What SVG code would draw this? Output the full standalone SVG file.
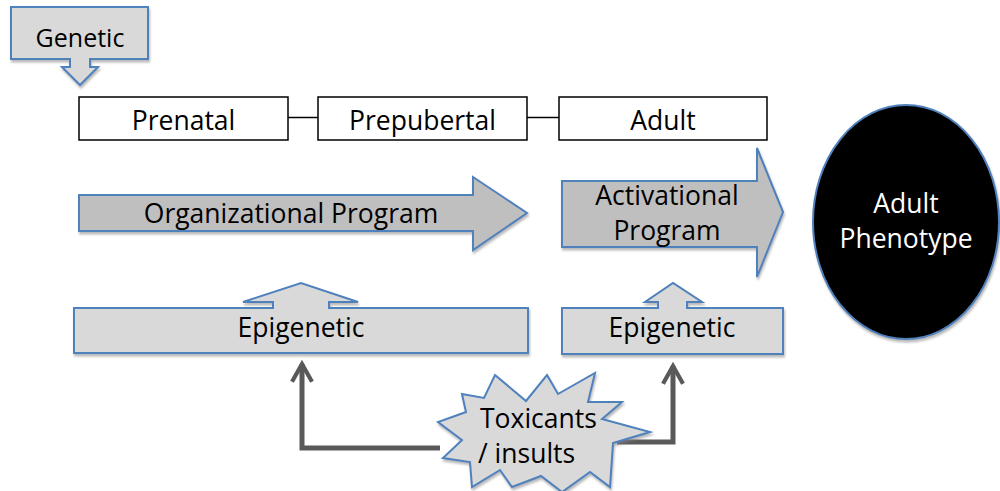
<svg xmlns="http://www.w3.org/2000/svg" width="1000" height="491" viewBox="0 0 1000 491">
<defs>
<filter id="sh" x="-10%" y="-10%" width="120%" height="130%">
<feDropShadow dx="1" dy="2.5" stdDeviation="1" flood-color="#808080" flood-opacity="0.55"/>
</filter>
<marker id="chev" viewBox="0 0 12 12" refX="10" refY="6" markerWidth="5" markerHeight="5" markerUnits="strokeWidth" orient="auto" overflow="visible">
<path d="M1.5 1.2 L10 6 L1.5 10.8" fill="none" stroke="#595959" stroke-width="2" stroke-linecap="butt" stroke-linejoin="miter"/>
</marker>
</defs>
<style>
text{font-family:"Open Sans","Liberation Sans",sans-serif;font-size:26.5px;fill:#000;text-anchor:middle}
.blue{stroke:#4f81bd;stroke-width:2;stroke-linejoin:miter}
.lt{fill:#d9d9d9}
.md{fill:#bfbfbf}
.box{fill:#fff;stroke:#000;stroke-width:1.5}
.conn{fill:none;stroke:#595959;stroke-width:5}
</style>
<g id="genetic">
<path class="blue lt" filter="url(#sh)" d="M11 7 H148 V59 H90 V67 H98 L80 85 L62 67 H70 V59 H11 Z"/>
<text x="80" y="47" style="font-size:25px">Genetic</text>
</g>
<g id="timeline-links">
<line x1="288" y1="117.5" x2="318" y2="117.5" stroke="#000" stroke-width="1.5"/>
<line x1="527" y1="117.5" x2="559" y2="117.5" stroke="#000" stroke-width="1.5"/>
</g>
<g id="prenatal">
<rect class="box" x="79" y="97" width="209" height="43"/>
<text x="183.5" y="130">Prenatal</text>
</g>
<g id="prepubertal">
<rect class="box" x="318" y="97" width="209" height="43"/>
<text x="422.5" y="130">Prepubertal</text>
</g>
<g id="adult">
<rect class="box" x="559" y="97" width="208" height="43"/>
<text x="663" y="130">Adult</text>
</g>
<g id="organizational">
<path class="blue md" filter="url(#sh)" d="M79 195 H473 V177 L527 213 L473 250 V231 H79 Z"/>
<text x="291" y="223">Organizational Program</text>
</g>
<g id="activational">
<path class="blue md" filter="url(#sh)" d="M562 181 H757 V148 L783 212 L757 277 V247 H562 Z"/>
<text x="667" y="205">Activational</text>
<text x="667" y="240">Program</text>
</g>
<g id="epigenetic-left">
<path class="blue lt" filter="url(#sh)" d="M74 308 H273 V302 H243 L301 283 L358 302 H329 V308 H528 V353 H74 Z"/>
<text x="301" y="337">Epigenetic</text>
</g>
<g id="epigenetic-right">
<path class="blue lt" filter="url(#sh)" d="M562 308 H658 V302 H645 L673 283 L702 302 H687 V308 H783 V354 H562 Z"/>
<text x="672" y="337">Epigenetic</text>
</g>
<g id="phenotype">
<ellipse cx="906" cy="222" rx="93" ry="117" fill="#000" stroke="#4f81bd" stroke-width="2" filter="url(#sh)"/>
<text x="906" y="213" style="fill:#fff">Adult</text>
<text x="906" y="248" style="fill:#fff">Phenotype</text>
</g>
<g id="connectors">
<path class="conn" d="M440 448 H302 V364" marker-end="url(#chev)"/>
<path class="conn" d="M617 442 H673 V366" marker-end="url(#chev)"/>
</g>
<g id="toxicants">
<path class="blue lt" filter="url(#sh)" d="M495 375 L526 401 L547 375 L558 394 L595 373 L588 402 L622 402 L602 419 L650 432 L613 443 L610 487 L590 472 L562 492 L541 476 L512 487 L500 470 L472 487 L470 462 L443 458 L462 440 L438 422 L466 412 L462 394 L484 398 Z"/>
<text x="480" y="428" style="text-anchor:start">Toxicants</text>
<text x="478" y="463" style="text-anchor:start">/ insults</text>
</g>
</svg>
